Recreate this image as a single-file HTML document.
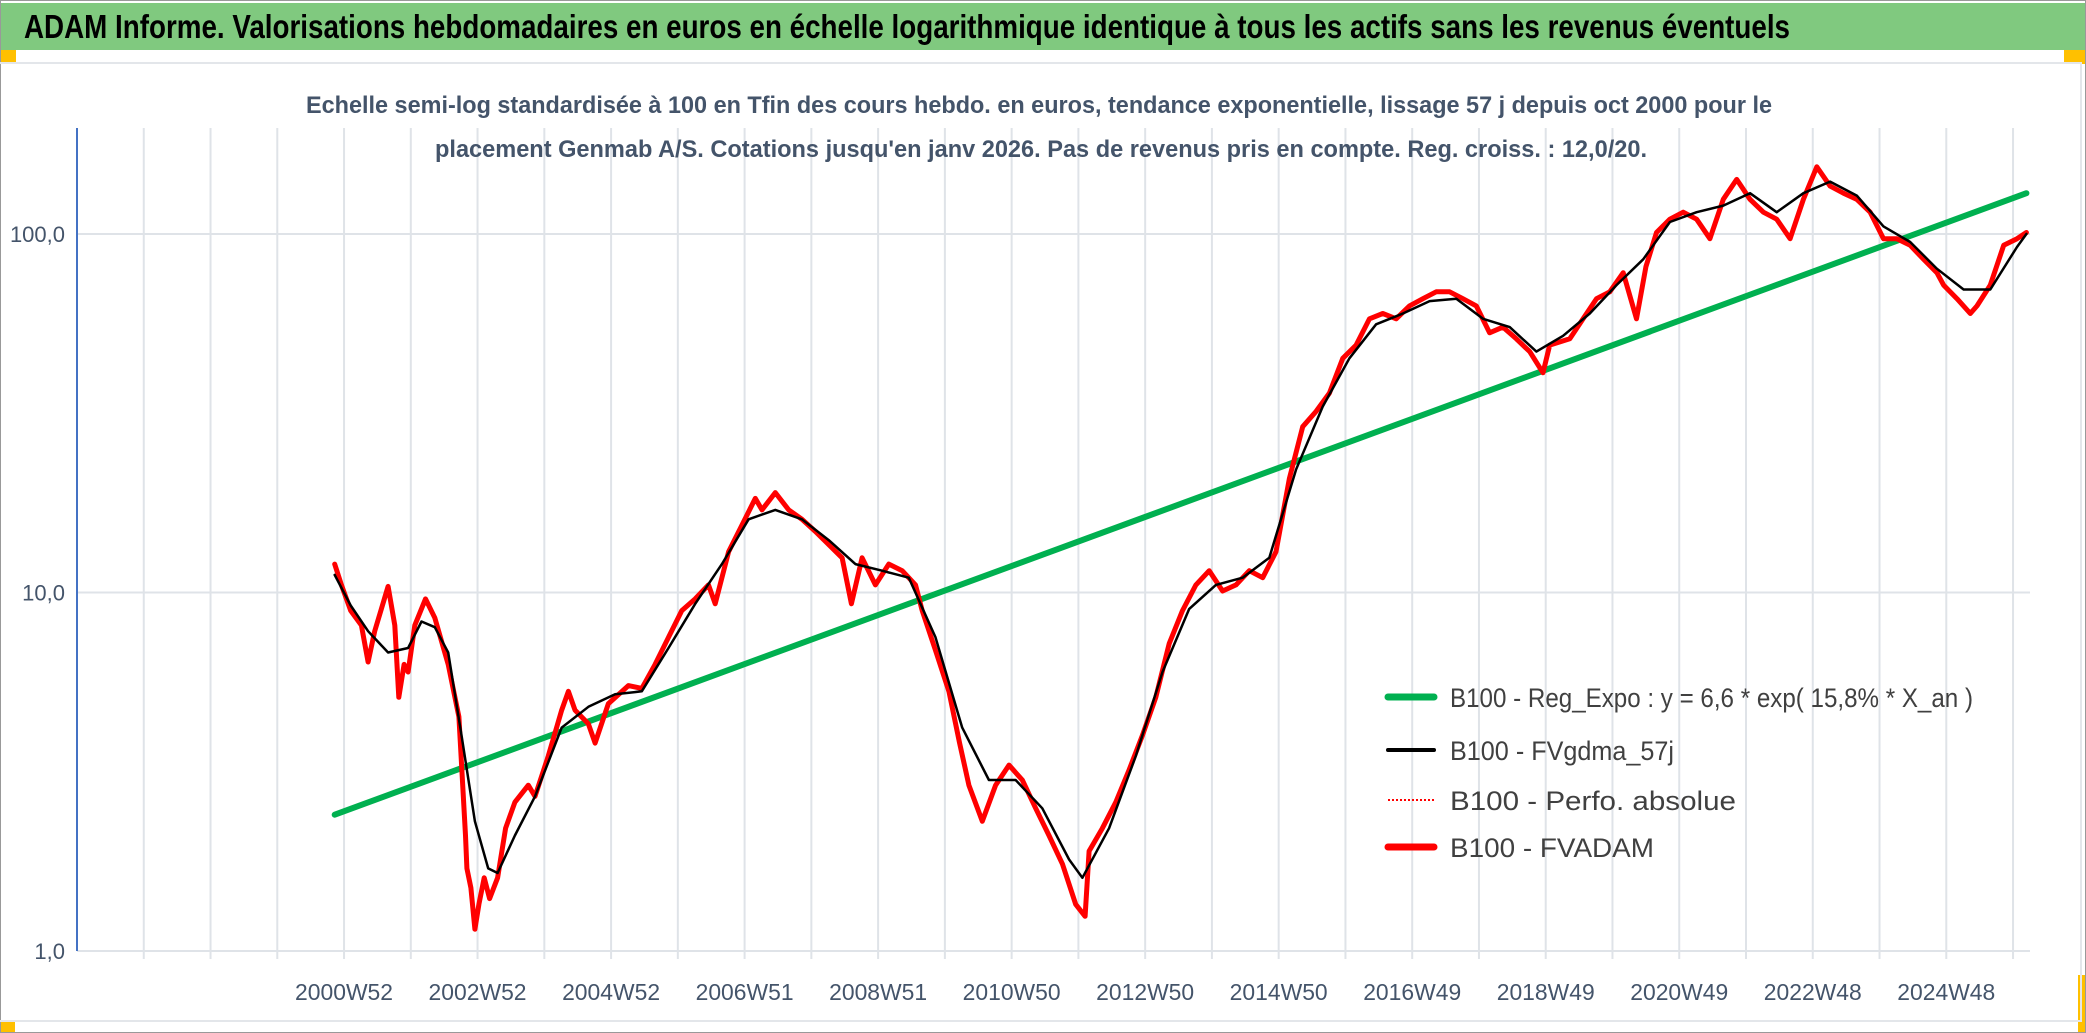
<!DOCTYPE html>
<html><head><meta charset="utf-8"><style>
html,body{margin:0;padding:0;background:#fff;}
body{width:2086px;height:1033px;overflow:hidden;position:relative;font-family:"Liberation Sans",sans-serif;}
</style></head><body>
<div style="position:absolute;left:0;top:0;width:2084px;height:1031px;border:1px solid #999;"></div>
<div style="position:absolute;left:1px;top:3px;width:2084px;height:47px;background:#80c97f;"></div>
<div style="position:absolute;left:1px;top:50px;width:15px;height:12px;background:#ffc000;"></div>
<div style="position:absolute;left:2064px;top:50px;width:21px;height:14px;background:#ffc000;"></div>
<div style="position:absolute;left:1px;top:1020px;width:14px;height:12px;background:#ffc000;"></div>
<div style="position:absolute;left:2078px;top:975px;width:7px;height:57px;background:#ffc000;"></div>
<div style="position:absolute;left:0;top:62px;width:2080px;height:956px;border-top:2px solid #e3e6ea;border-right:2px solid #e3e6ea;border-bottom:2px solid #e3e6ea;"></div>
<svg width="2086" height="1033" style="position:absolute;left:0;top:0;">
<text x="24" y="38" font-family="Liberation Sans, sans-serif" font-weight="bold" font-size="33" fill="#000" textLength="1766" lengthAdjust="spacingAndGlyphs">ADAM Informe. Valorisations hebdomadaires en euros en échelle logarithmique identique à tous les actifs sans les revenus éventuels</text>
<g id="grid"></g>
<g id="axes"></g>
<g id="series"></g>
<g id="legend"></g>
<text x="1039" y="113" text-anchor="middle" font-family="Liberation Sans, sans-serif" font-weight="bold" font-size="24" fill="#44546a" textLength="1466" lengthAdjust="spacingAndGlyphs">Echelle semi-log standardisée à 100 en Tfin des cours hebdo. en euros, tendance exponentielle, lissage 57 j depuis oct 2000 pour le</text>
<text x="1041" y="157" text-anchor="middle" font-family="Liberation Sans, sans-serif" font-weight="bold" font-size="24" fill="#44546a" textLength="1212" lengthAdjust="spacingAndGlyphs">placement Genmab A/S. Cotations jusqu'en janv 2026. Pas de revenus pris en compte. Reg. croiss. : 12,0/20.</text>
</svg>
<script>
const tickYears=[2001,2003,2005,2007,2009,2011,2013,2015,2017,2019,2021,2023,2025];
const tickLabels=["2000W52","2002W52","2004W52","2006W51","2008W51","2010W50","2012W50","2014W50","2016W49","2018W49","2020W49","2022W48","2024W48"];
const yTicks=[1,10,100];
const yTickLabels=["1,0","10,0","100,0"];
const regYears=[2000.86,2026.2];
const regValues=[2.4,130];
const redYears=[2000.86,2000.96,2001.10,2001.26,2001.36,2001.46,2001.66,2001.76,2001.82,2001.90,2001.96,2002.06,2002.22,2002.36,2002.56,2002.72,2002.82,2002.84,2002.90,2002.96,2003.02,2003.10,2003.18,2003.30,2003.42,2003.56,2003.76,2003.86,2004.06,2004.26,2004.36,2004.46,2004.66,2004.76,2004.96,2005.26,2005.46,2005.66,2005.86,2006.06,2006.26,2006.46,2006.56,2006.76,2006.96,2007.16,2007.26,2007.46,2007.66,2007.86,2008.06,2008.26,2008.46,2008.60,2008.76,2008.96,2009.16,2009.36,2009.56,2009.66,2009.86,2010.06,2010.22,2010.36,2010.56,2010.76,2010.96,2011.16,2011.36,2011.56,2011.76,2011.96,2012.10,2012.16,2012.36,2012.56,2012.76,2012.96,2013.16,2013.36,2013.56,2013.76,2013.96,2014.16,2014.36,2014.56,2014.76,2014.96,2015.16,2015.36,2015.56,2015.76,2015.96,2016.16,2016.36,2016.56,2016.76,2016.96,2017.16,2017.36,2017.56,2017.76,2017.96,2018.16,2018.36,2018.56,2018.76,2018.96,2019.06,2019.36,2019.56,2019.76,2019.96,2020.16,2020.36,2020.50,2020.66,2020.86,2021.06,2021.26,2021.46,2021.66,2021.86,2022.06,2022.26,2022.46,2022.66,2022.86,2023.06,2023.26,2023.46,2023.66,2023.86,2024.06,2024.26,2024.46,2024.66,2024.86,2024.96,2025.16,2025.36,2025.46,2025.66,2025.86,2026.06,2026.2];
const redValues=[12.0,10.5,8.9,8.1,6.4,7.8,10.4,8.1,5.1,6.3,6.0,8.1,9.6,8.5,6.3,4.5,2.1,1.7,1.5,1.15,1.35,1.6,1.4,1.6,2.2,2.6,2.9,2.7,3.5,4.7,5.3,4.7,4.3,3.8,4.9,5.5,5.4,6.3,7.5,8.9,9.6,10.5,9.3,13,15.4,18.3,17,19,17,16,14.8,13.6,12.5,9.3,12.5,10.5,12,11.5,10.5,8.9,6.9,5.3,3.8,2.9,2.3,2.9,3.3,3.0,2.5,2.1,1.75,1.35,1.25,1.9,2.2,2.6,3.2,4.0,5.1,7.2,8.9,10.5,11.5,10.1,10.5,11.5,11,13,20.8,29,32,36,45,49,58,60,58,63,66,69,69,66,63,53,55,51,47,41,49,51,58,66,69,78,58,81,101,110,115,110,97,125,142,125,115,110,97,125,154,136,130,125,115,97,97,93,85,78,72,66,60,63,72,93,97,101,98];
const blackYears=[2000.86,2001.10,2001.36,2001.66,2001.96,2002.16,2002.36,2002.56,2002.76,2002.96,2003.16,2003.30,2003.56,2003.86,2004.26,2004.66,2005.06,2005.46,2005.86,2006.26,2006.66,2007.06,2007.46,2007.86,2008.26,2008.66,2009.06,2009.46,2009.86,2010.26,2010.66,2011.06,2011.46,2011.86,2012.06,2012.46,2012.86,2013.26,2013.66,2014.06,2014.46,2014.86,2015.26,2015.66,2016.06,2016.46,2016.86,2017.26,2017.66,2018.06,2018.46,2018.86,2019.26,2019.66,2020.06,2020.46,2020.86,2021.26,2021.66,2022.06,2022.46,2022.86,2023.26,2023.66,2024.06,2024.46,2024.86,2025.26,2025.66,2026.06,2026.2];
const blackValues=[11.2,9.2,7.8,6.8,7.0,8.3,8.0,6.8,4.0,2.3,1.7,1.65,2.1,2.7,4.2,4.8,5.2,5.3,7.0,9.3,12,16,17,16,14,12,11.5,11,7.5,4.2,3.0,3.0,2.5,1.8,1.6,2.2,3.5,6,9,10.5,11,12.5,22,33,45,56,60,65,66,58,55,47,52,60,72,85,108,115,120,130,115,130,140,128,105,95,80,70,70,92,100];

const NS="http://www.w3.org/2000/svg";
const X0=77,YEAR0=1997,PXY=66.76,Y1=951,DEC=358.5,PLOT_TOP=128,PLOT_R=2030;
function xScale(yr){return X0+(yr-YEAR0)*PXY;}
function yScale(v){return Y1-Math.log10(v)*DEC;}
function mk(tag,attrs,parent){const e=document.createElementNS(NS,tag);for(const k in attrs)e.setAttribute(k,attrs[k]);parent.appendChild(e);return e;}
const grid=document.getElementById('grid'),axes=document.getElementById('axes'),series=document.getElementById('series'),legend=document.getElementById('legend');
for(let yr=YEAR0+1;yr<=2026;yr++){
  const l=mk('line',{x1:xScale(yr),x2:xScale(yr),y1:PLOT_TOP,y2:Y1+8,stroke:'#dfe3e8','stroke-width':2},grid);
  
  
}
yTicks.forEach((v,i)=>{
  const l=mk('line',{x1:X0,x2:PLOT_R,y1:yScale(v),y2:yScale(v),stroke:'#dfe3e8','stroke-width':2},grid);
  
  
  const t=mk('text',{x:X0-12,y:yScale(v)+8,'text-anchor':'end','font-size':22,fill:'#44546a','font-family':'Liberation Sans, sans-serif'},axes);
  t.textContent=yTickLabels[i];
  
  
});
const ya=mk('line',{x1:X0,x2:X0,y1:PLOT_TOP,y2:Y1,stroke:'#4472c4','stroke-width':2},axes);


tickYears.forEach((yr,i)=>{
  const t=mk('text',{x:xScale(yr),y:Y1+49,'text-anchor':'middle','font-size':23,fill:'#44546a','font-family':'Liberation Sans, sans-serif',textLength:98,lengthAdjust:'spacingAndGlyphs'},axes);
  t.textContent=tickLabels[i];
  
  
});
function poly(xs,vs,color,w,name){
  const pts=xs.map((yr,i)=>xScale(yr).toFixed(1)+','+yScale(vs[i]).toFixed(1)).join(' ');
  const p=mk('polyline',{points:pts,fill:'none',stroke:color,'stroke-width':w,'stroke-linejoin':'round','stroke-linecap':'round'},series);
  
  
}
poly(regYears,regValues,'#00b050',6,'regression-line');
poly(redYears,redValues,'#ff0000',5,'fvadam-line');
poly(blackYears,blackValues,'#000000',2.5,'fvgdma-line');
const items=[['B100 - Reg_Expo : y = 6,6 * exp( 15,8% *  X_an )','#00b050',7,'',523],['B100 - FVgdma_57j','#000',4,'',224],['B100 - Perfo. absolue','#ff0000',2,'2,2',286],['B100 - FVADAM','#ff0000',7,'',204]];
const legY=[697,750,800,847];
items.forEach((it,i)=>{
  const l=mk('line',{x1:1388,x2:1434,y1:legY[i],y2:legY[i],stroke:it[1],'stroke-width':it[2],'stroke-linecap':it[3]?'butt':'round'},legend);
  if(it[3])l.setAttribute('stroke-dasharray',it[3]);
  
  
  const t=mk('text',{x:1450,y:legY[i]+10,'font-size':27,fill:'#404040','font-family':'Liberation Sans, sans-serif',textLength:it[4],lengthAdjust:'spacingAndGlyphs'},legend);
  t.textContent=it[0];
  
  
});
</script>
</body></html>
